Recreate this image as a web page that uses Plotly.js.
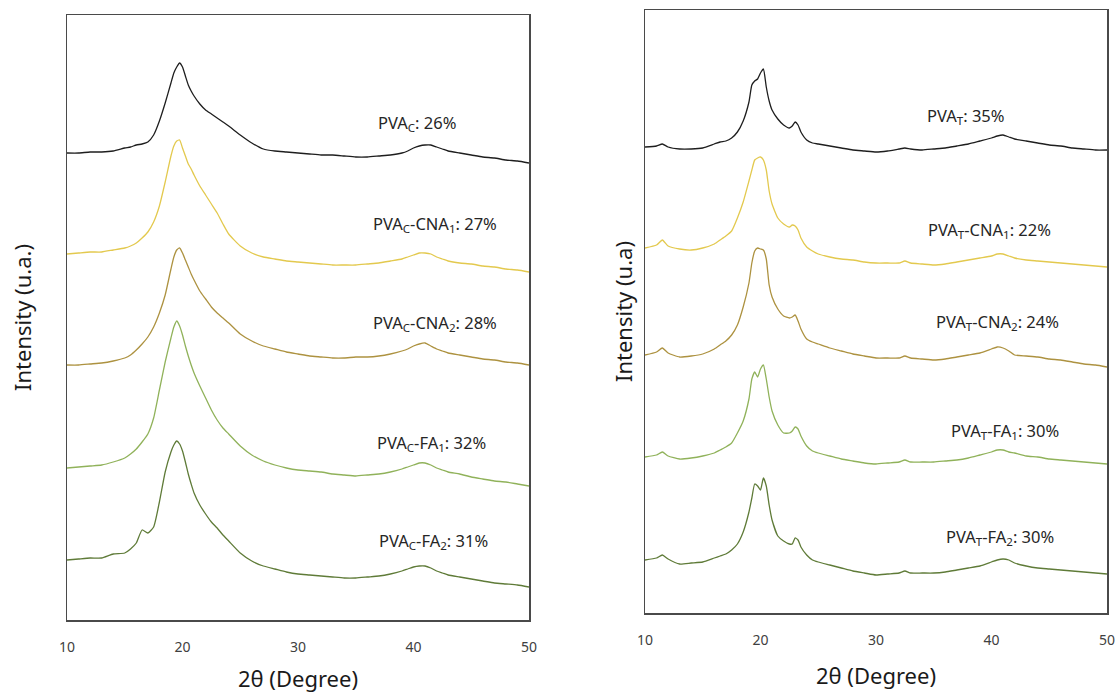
<!DOCTYPE html>
<html>
<head>
<meta charset="utf-8">
<script src="https://cdn.plot.ly/plotly-3.0.1.min.js"></script>
<style>
  html, body { margin: 0; padding: 0; background: #ffffff; }
  #chart { width: 1117px; height: 693px; }
</style>
</head>
<body>
<div id="chart"></div>
<script>
// XRD patterns, 2θ in degrees. Intensities are relative to each pattern's value at 10°,
// and each pattern is shifted up by its stacking offset.

// ---- PVA_C series (left panel) ----
const thetaC = [10,11,12,13,14,15,15.5,16,16.5,17,17.5,18,18.5,19,19.25,19.5,19.75,20,20.25,20.5,20.75,21,21.5,22,22.5,23,23.5,24,25,26,27,28,29,30,31,32,33,34,35,36,37,38,39,39.5,40,40.5,41,41.5,42,42.5,43,44,45,46,47,48,49,50];

const pvaC      = [0,0,1,1,2,5,6,8,9,11,18,32,50,70,80,86,90,86,77,68,62,57,49,43,39,35,31,27,18,10,4,2,1,0,-1,-2,-2,-3,-4,-4,-3,-2,0,2,5,7,8,8,6,4,2,0,-2,-4,-5,-7,-8,-10];
const pvaC_CNA1 = [0,1,2,2,4,6,8,11,16,22,32,48,72,98,108,113,114,106,98,90,85,79,68,59,50,41,30,20,8,1,-3,-5,-7,-8,-9,-10,-11,-11,-11,-10,-9,-7,-5,-3,-1,1,1,0,-3,-5,-7,-9,-10,-12,-13,-15,-16,-18];
const pvaC_CNA2 = [0,0,1,2,4,7,10,15,21,28,38,52,70,96,108,115,117,112,105,98,91,85,74,66,58,52,47,42,31,24,19,16,13,11,9,8,7,7,8,8,9,11,14,16,19,21,22,19,16,14,12,10,8,6,5,3,2,0];
const pvaC_FA1  = [0,1,2,3,6,10,14,19,26,34,50,78,106,130,141,147,142,133,122,112,103,95,82,70,58,48,40,34,22,13,7,3,0,-2,-3,-4,-6,-7,-8,-7,-6,-4,-1,1,3,5,5,3,0,-2,-4,-6,-9,-11,-13,-14,-16,-18];
const pvaC_FA2  = [0,1,2,2,6,7,11,17,30,27,33,58,88,108,115,119,116,109,98,86,76,67,55,46,38,32,25,19,7,-1,-6,-9,-12,-14,-15,-16,-17,-18,-18,-17,-16,-14,-11,-9,-7,-6,-6,-8,-11,-13,-15,-17,-19,-21,-23,-24,-25,-27];

const namesC   = ['PVA<sub>C</sub>', 'PVA<sub>C</sub>-CNA<sub>1</sub>', 'PVA<sub>C</sub>-CNA<sub>2</sub>', 'PVA<sub>C</sub>-FA<sub>1</sub>', 'PVA<sub>C</sub>-FA<sub>2</sub>'];
const crystC   = [26, 27, 28, 32, 31];
const offsetsC = [467, 366, 255, 152, 60];
const seriesC  = [pvaC, pvaC_CNA1, pvaC_CNA2, pvaC_FA1, pvaC_FA2];

// ---- PVA_T series (right panel) ----
const thetaT = [10,11,11.5,12,13,14,15,16,16.5,17,17.5,18,18.5,19,19.25,19.5,19.75,20,20.25,20.5,20.75,21,21.5,22,22.5,22.75,23,23.25,23.5,24,24.5,25,26,27,28,29,30,31,32,32.5,33,34,35,36,37,38,39,40,40.5,41,41.5,42,43,44,45,46,47,48,49,50];

const pvaT      = [0,1,3,0,-2,-2,-1,3,5,6,9,15,26,45,62,66,68,74,78,60,46,37,28,22,19,21,25,22,15,7,4,3,1,-1,-3,-4,-5,-4,-2,-1,-2,-3,-2,-1,1,3,6,9,11,12,10,8,6,4,2,1,-1,-2,-3,-3];
const pvaT_CNA1 = [0,3,8,2,-1,-2,0,4,8,12,17,30,46,67,78,88,90,91,88,78,57,44,30,24,21,23,22,18,10,1,-3,-6,-9,-11,-12,-14,-15,-15,-15,-13,-15,-16,-17,-16,-14,-12,-10,-8,-6,-6,-8,-10,-12,-13,-14,-15,-16,-17,-18,-19];
const pvaT_CNA2 = [0,3,7,2,-2,-1,1,6,10,14,20,30,48,72,92,104,107,106,105,96,70,58,46,39,37,38,40,34,26,16,13,11,7,4,1,-1,-3,-3,-3,-1,-3,-4,-5,-4,-2,0,2,6,8,7,4,0,-1,-2,-4,-5,-7,-9,-10,-12];
const pvaT_FA1  = [0,2,5,1,-2,-1,1,4,7,10,14,24,36,58,78,85,80,88,92,78,60,46,32,24,24,26,30,28,21,11,6,4,1,-2,-4,-6,-7,-6,-5,-3,-5,-5,-5,-4,-3,-1,2,5,7,7,5,4,1,0,-2,-3,-4,-5,-6,-7];
const pvaT_FA2  = [0,2,5,1,-4,-3,-2,2,4,6,10,16,28,48,62,76,74,70,82,74,55,40,24,19,16,16,22,20,13,5,0,-2,-5,-8,-11,-13,-15,-14,-13,-11,-13,-13,-13,-12,-10,-8,-6,-2,0,1,0,-3,-6,-8,-9,-10,-11,-12,-13,-14];

const namesT   = ['PVA<sub>T</sub>', 'PVA<sub>T</sub>-CNA<sub>1</sub>', 'PVA<sub>T</sub>-CNA<sub>2</sub>', 'PVA<sub>T</sub>-FA<sub>1</sub>', 'PVA<sub>T</sub>-FA<sub>2</sub>'];
const crystT   = [35, 22, 24, 30, 30];
const offsetsT = [466, 365, 258, 156, 53];
const seriesT  = [pvaT, pvaT_CNA1, pvaT_CNA2, pvaT_FA1, pvaT_FA2];

// Line colours, top pattern to bottom pattern
const colors = ['#1e1e1e', '#e3c94e', '#ad9240', '#90b25a', '#5f7b38'];

// Label placement in data coordinates [2θ, intensity]
const labelPosC = [[40.3, 497], [41.9, 396], [41.9, 297], [41.6, 177], [41.7, 79]];
const labelPosT = [[37.8, 497], [39.8, 383], [40.5, 291], [41.2, 182], [40.7, 76]];

const traces = [];
const annotations = [];

function addPanel(theta, series, offsets, names, cryst, labelPos, xa, ya) {
  series.forEach((vals, i) => {
    traces.push({
      type: 'scatter',
      mode: 'lines',
      x: theta,
      y: vals.map(v => v + offsets[i]),
      name: names[i],
      xaxis: xa,
      yaxis: ya,
      line: { color: colors[i], width: 1.3, shape: 'spline', smoothing: 0.5 },
      hoverinfo: 'x+name'
    });
    annotations.push({
      xref: xa, yref: ya,
      x: labelPos[i][0], y: labelPos[i][1],
      text: names[i] + ': ' + cryst[i] + '%',
      showarrow: false,
      font: { family: 'Noto Sans, sans-serif', size: 16.5, color: '#262626' }
    });
  });
}

addPanel(thetaC, seriesC, offsetsC, namesC, crystC, labelPosC, 'x', 'y');
addPanel(thetaT, seriesT, offsetsT, namesT, crystT, labelPosT, 'x2', 'y2');

const W = 1117, H = 693;

const xCommon = {
  range: [10, 50],
  tickvals: [10, 20, 30, 40, 50],
  ticks: '',
  ticklabelstandoff: 14,
  showgrid: false,
  zeroline: false,
  showline: true,
  mirror: true,
  linecolor: '#4a4a4a',
  linewidth: 1.5,
  tickfont: { family: 'Noto Sans, sans-serif', size: 14, color: '#404040' },
  automargin: false
};
const yCommon = {
  showticklabels: false,
  ticks: '',
  showgrid: false,
  zeroline: false,
  showline: true,
  mirror: true,
  linecolor: '#4a4a4a',
  linewidth: 1.5,
  automargin: false
};
const titleFont = { family: 'Noto Sans, sans-serif', size: 22, color: '#1a1a1a' };

const layout = {
  width: W, height: H,
  margin: { l: 0, r: 0, t: 0, b: 0 },
  paper_bgcolor: '#ffffff',
  plot_bgcolor: '#ffffff',
  showlegend: false,
  xaxis: Object.assign({}, xCommon, {
    domain: [67 / W, 529 / W], anchor: 'y',
    title: { text: '2θ (Degree)', font: titleFont, standoff: 18 }
  }),
  yaxis: Object.assign({}, yCommon, {
    domain: [(H - 620) / H, (H - 15) / H], anchor: 'x', range: [0, 605],
    title: { text: 'Intensity (u.a.)', font: titleFont, standoff: 28 }
  }),
  xaxis2: Object.assign({}, xCommon, {
    domain: [645 / W, 1107 / W], anchor: 'y2',
    title: { text: '2θ (Degree)', font: titleFont, standoff: 20 }
  }),
  yaxis2: Object.assign({}, yCommon, {
    domain: [(H - 613) / H, (H - 10) / H], anchor: 'x2', range: [0, 603],
    title: { text: 'Intensity (u.a)', font: titleFont, standoff: 5 }
  }),
  annotations: annotations
};

Plotly.newPlot('chart', traces, layout, { displayModeBar: false, staticPlot: true });
</script>
</body>
</html>
